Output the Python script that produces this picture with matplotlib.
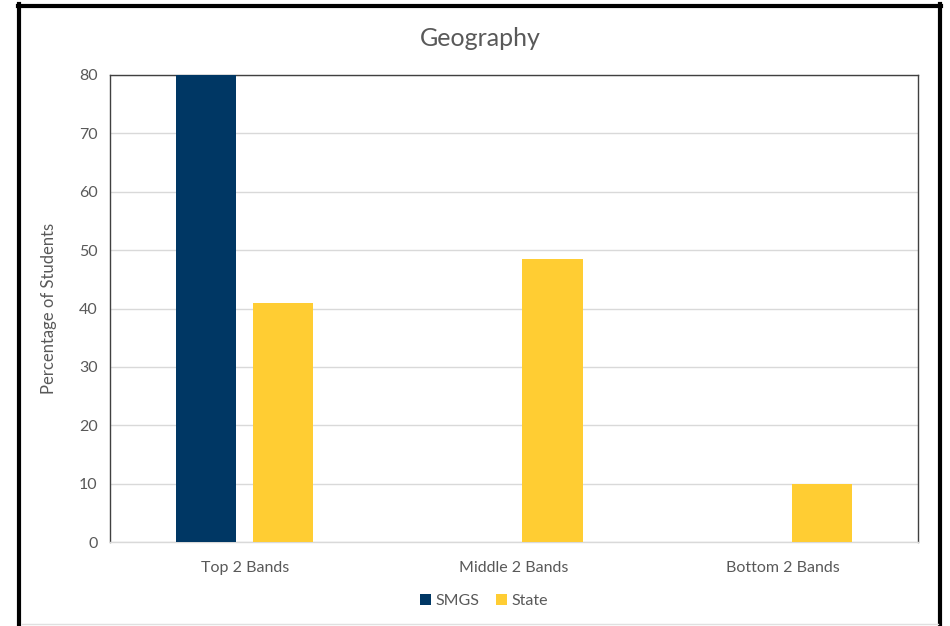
import matplotlib.pyplot as plt
from matplotlib.lines import Line2D
import numpy as np

categories = ["Top 2 Bands", "Middle 2 Bands", "Bottom 2 Bands"]
series_names = ["SMGS", "State"]
smgs = [80, 0, 0]
state = [41, 48.5, 10]
yticks = [0, 10, 20, 30, 40, 50, 60, 70, 80]

navy = "#003764"
yellow = "#FFCD33"
text_gray = "#595959"

plt.rcParams["font.family"] = ["Lato", "DejaVu Sans"]

W, H = 950, 626
fig = plt.figure(figsize=(W / 100, H / 100), dpi=100)
fig.patch.set_facecolor("white")

def fx(px):
    return px / W

def fy(py):
    return 1 - py / H

ax = fig.add_axes([fx(110), fy(542), fx(918) - fx(110), fy(75) - fy(542)])

x = np.arange(len(categories))
width = 0.223
offset = 0.143
ax.bar(x - offset, smgs, width, color=navy, label=series_names[0], zorder=3)
ax.bar(x + offset, state, width, color=yellow, label=series_names[1], zorder=3)

ax.set_xlim(-0.5, len(categories) - 0.5)
ax.set_ylim(0, 80)
ax.set_yticks(yticks)
ax.set_xticks(x)
ax.set_xticklabels(categories)
ax.tick_params(axis="both", length=0, labelsize=11.5, colors=text_gray, pad=9)
ax.tick_params(axis="x", pad=14)
ax.yaxis.grid(True, color="#D9D9D9", linewidth=1.0, zorder=0)
ax.set_axisbelow(True)

for side in ["left", "top", "right"]:
    ax.spines[side].set_color("#404040")
    ax.spines[side].set_linewidth(1.0)
ax.spines["bottom"].set_color("#D9D9D9")
ax.spines["bottom"].set_linewidth(1.0)

ax.set_ylabel("Percentage of Students", fontsize=12, color=text_gray, labelpad=16)
fig.text(fx(480), fy(38), "Geography", ha="center", va="center",
         fontsize=18, color=text_gray)

leg = fig.legend(loc="center", bbox_to_anchor=(fx(484), fy(601)), ncol=2,
                 frameon=False, fontsize=11.5, handlelength=0.7, handleheight=0.7,
                 handletextpad=0.3, columnspacing=1.0)
for t in leg.get_texts():
    t.set_color(text_gray)

# outer frame
fig.add_artist(Line2D([fx(19), fx(19)], [fy(4), fy(626)], color="black", lw=3.0))
fig.add_artist(Line2D([fx(17.5), fx(941)], [fy(5.5), fy(5.5)], color="black", lw=3.0))
fig.add_artist(Line2D([fx(939.5), fx(939.5)], [fy(4), fy(626)], color="black", lw=3.0))
fig.add_artist(Line2D([fx(22), fx(938)], [fy(624), fy(624)], color="#E0E0E0", lw=1.0))

fig.savefig("out.png", dpi=100, facecolor="white")
